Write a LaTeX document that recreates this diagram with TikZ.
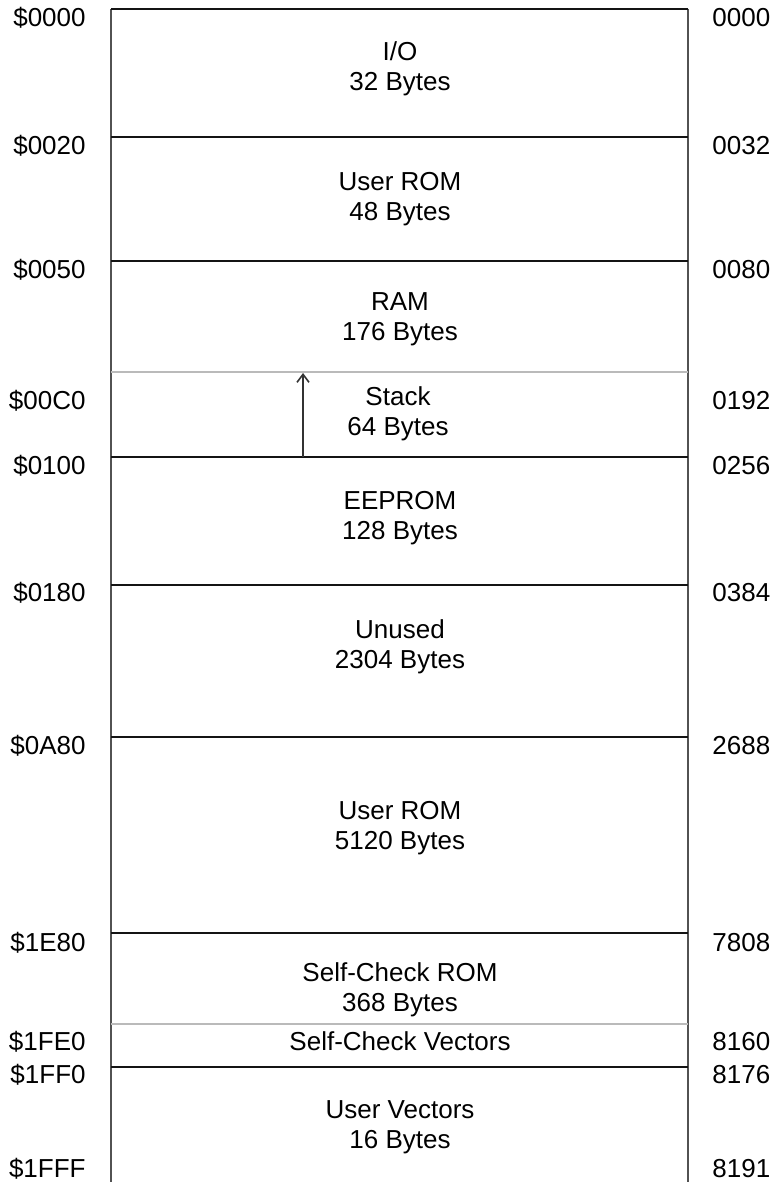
\documentclass[tikz,border=0pt]{standalone}
\usepackage{fontspec}
\setmainfont{Liberation Sans}
\usetikzlibrary{arrows.meta}

\begin{document}
\begin{tikzpicture}[x=0.5pt,y=-0.5pt,
    every node/.style={font=\fontsize{13}{15}\selectfont, inner sep=0pt},
    block/.style={align=center},
    hexaddr/.style={anchor=east},
    decaddr/.style={anchor=west},
    side/.style={draw=black!68, line width=1pt},
    sep/.style={draw=black!92, line width=1pt},
    faint/.style={draw=black!27, line width=1pt}]
    \newcommand{\addr}[4]{
        \node[hexaddr] (h#1) at (86,#2) {\$#3};
        \node[decaddr] (d#1) at (712,#2) {#4}
    }
    \useasboundingbox (0,0) rectangle (775,1182);

    % outline of the map
    \draw[side] (111,9) -- (111,1183);
    \draw[side] (688,9) -- (688,1183);
    \draw[sep] (111,9) -- (688,9);
    \draw[faint] (111,1182.5) -- (688,1182.5);

    % region borders
    \draw[sep] (111,137) -- (688,137);
    \draw[sep] (111,261) -- (688,261);
    \draw[faint] (111,372) -- (688,372);
    \draw[sep] (111,457) -- (688,457);
    \draw[sep] (111,585) -- (688,585);
    \draw[sep] (111,737) -- (688,737);
    \draw[sep] (111,933) -- (688,933);
    \draw[faint] (111,1024) -- (688,1024);
    \draw[sep] (111,1067) -- (688,1067);

    % regions
    \node[block] (io) at (400,69) {I/O\\32 Bytes};
    \node[block] (urom) at (400,199) {User ROM\\48 Bytes};
    \node[block] (ram) at (400,319) {RAM\\176 Bytes};
    \node[block] (stack) at (398,414) {Stack\\64 Bytes};
    \node[block] (eeprom) at (400,518) {EEPROM\\128 Bytes};
    \node[block] (unused) at (400,647) {Unused\\2304 Bytes};
    \node[block] (urombig) at (400,828) {User ROM\\5120 Bytes};
    \node[block] (scrom) at (400,990) {Self-Check ROM\\368 Bytes};
    \node[block] (scvec) at (400,1041.5) {Self-Check Vectors};
    \node[block] (uvec) at (400,1127.5) {User Vectors\\16 Bytes};

    % stack grows upwards
    \coordinate (sbot) at (303,457);
    \coordinate (stop) at (303,373);
    \draw[line width=0.8pt, black!80, -{Straight Barb[length=4pt,width=6pt]}] (sbot) -- (stop);

    % addresses
    \addr{0}{18}{0000}{0000};
    \addr{1}{146}{0020}{0032};
    \addr{2}{270}{0050}{0080};
    \addr{3}{401}{00C0}{0192};
    \addr{4}{466}{0100}{0256};
    \addr{5}{593}{0180}{0384};
    \addr{6}{746}{0A80}{2688};
    \addr{7}{943}{1E80}{7808};
    \addr{8}{1042}{1FE0}{8160};
    \addr{9}{1075}{1FF0}{8176};
    \addr{10}{1169}{1FFF}{8191};
\end{tikzpicture}
\end{document}
